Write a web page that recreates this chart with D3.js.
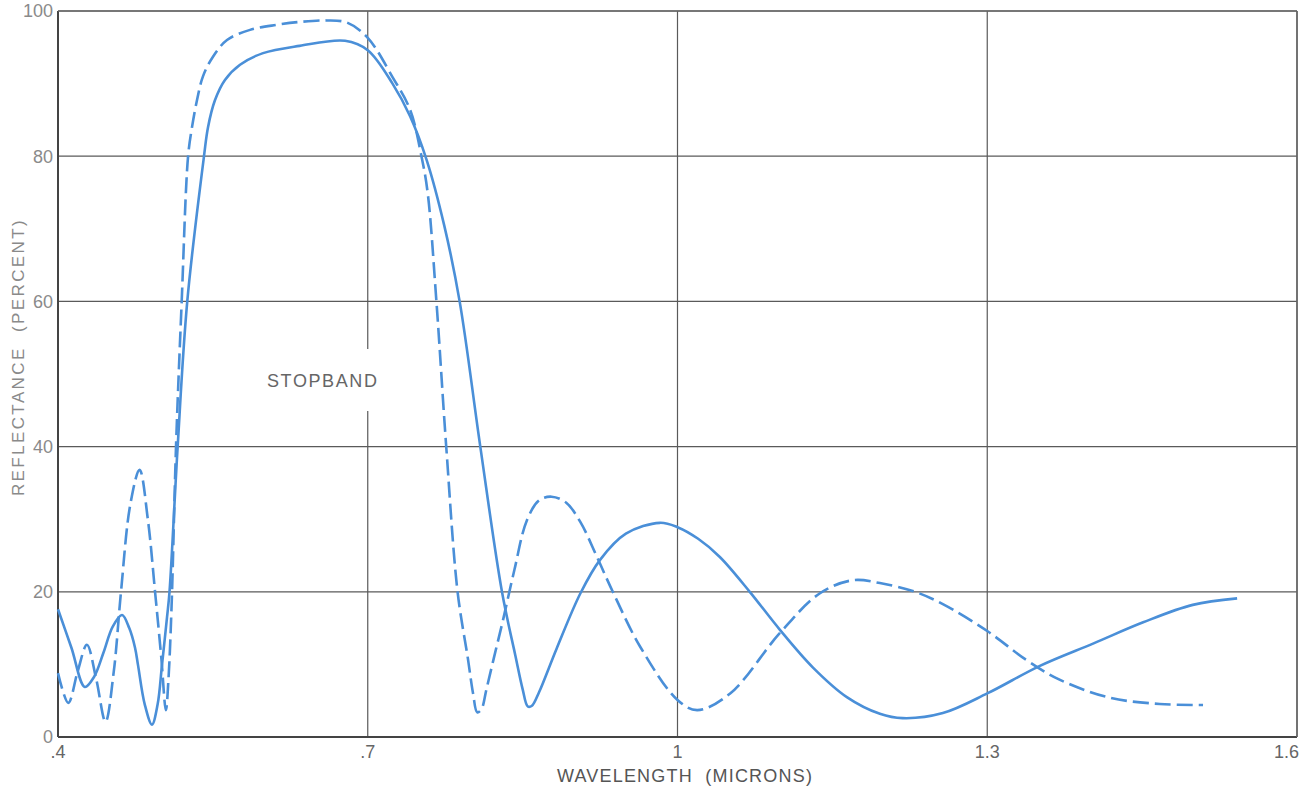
<!DOCTYPE html>
<html>
<head>
<meta charset="utf-8">
<script src="https://cdn.jsdelivr.net/npm/d3@7"></script>
<style>
  html, body { margin: 0; padding: 0; background: #fff; }
  svg { display: block; }
  text { font-family: "Liberation Sans", Arial, sans-serif; }
</style>
</head>
<body>
<svg id="chart" width="1314" height="787"></svg>
<script>
// ---- data ----
const xTicks = [0.4, 0.7, 1.0, 1.3, 1.6];
const xTickLabels = [".4", ".7", "1", "1.3", "1.6"];
const yTicks = [0, 20, 40, 60, 80, 100];
const yTickLabels = ["0", "20", "40", "60", "80", "100"];

// solid curve: wavelength (microns), reflectance (percent)
const solidX = [0.400, 0.413, 0.426, 0.435, 0.444, 0.453, 0.462, 0.469, 0.4746, 0.4775, 0.484, 0.491, 0.4965, 0.5007, 0.5056, 0.5080, 0.5159, 0.5252, 0.5414, 0.5453, 0.5520, 0.5617, 0.5763, 0.5986, 0.634, 0.678, 0.700, 0.724, 0.741, 0.757, 0.774, 0.789, 0.809, 0.830, 0.843, 0.850, 0.855, 0.859, 0.866, 0.883, 0.906, 0.925, 0.950, 0.983, 1.000, 1.020, 1.041, 1.070, 1.099, 1.131, 1.164, 1.196, 1.218, 1.257, 1.300, 1.351, 1.403, 1.451, 1.499, 1.542];
const solidY = [17.6, 12.3, 6.9, 8.3, 11.6, 15.2, 16.8, 15.0, 12.3, 9.9, 4.5, 1.7, 4.5, 9.9, 16.5, 20.0, 40.0, 60.0, 80.0, 84.0, 87.7, 90.5, 92.6, 94.2, 95.2, 95.9, 94.6, 90.0, 85.5, 79.5, 70.5, 60.0, 40.0, 20.0, 11.2, 6.6, 4.2, 4.3, 6.2, 12.2, 19.8, 24.4, 28.0, 29.5, 28.9, 27.3, 24.8, 20.0, 14.8, 9.6, 5.5, 3.2, 2.6, 3.3, 6.0, 9.8, 12.9, 15.8, 18.2, 19.1];

// dashed curve
const dashX = [0.400, 0.410, 0.419, 0.428, 0.437, 0.446, 0.454, 0.461, 0.470, 0.479, 0.487, 0.494, 0.500, 0.5045, 0.507, 0.510, 0.5143, 0.5198, 0.5260, 0.5298, 0.5346, 0.5404, 0.5501, 0.5637, 0.586, 0.6121, 0.6344, 0.660, 0.680, 0.700, 0.724, 0.741, 0.752, 0.758, 0.7665, 0.776, 0.787, 0.797, 0.802, 0.806, 0.810, 0.815, 0.822, 0.831, 0.842, 0.854, 0.866, 0.878, 0.892, 0.906, 0.922, 0.938, 0.964, 1.000, 1.019, 1.051, 1.099, 1.138, 1.170, 1.196, 1.230, 1.257, 1.300, 1.338, 1.370, 1.419, 1.467, 1.509];
const dashY = [8.8, 4.7, 9.0, 12.7, 8.0, 2.1, 9.0, 20.0, 32.0, 36.8, 30.0, 20.0, 11.0, 3.7, 8.0, 18.0, 40.0, 60.0, 80.0, 84.0, 87.7, 91.0, 93.7, 96.0, 97.4, 98.1, 98.5, 98.7, 98.4, 96.3, 90.9, 86.4, 80.0, 75.0, 60.0, 40.0, 20.0, 10.8, 6.0, 3.4, 3.8, 6.6, 10.8, 16.1, 23.0, 29.8, 32.6, 33.1, 32.3, 29.6, 24.8, 19.8, 12.4, 5.1, 3.7, 6.0, 14.3, 19.8, 21.6, 21.2, 20.0, 18.3, 14.6, 10.6, 7.9, 5.4, 4.55, 4.4];

// ---- layout ----
const svg = d3.select("#chart");
const plotL = 58, plotR = 1297, plotT = 11, plotB = 737;
const x = d3.scaleLinear().domain([0.4, 1.6]).range([plotL, plotR]);
const y = d3.scaleLinear().domain([0, 100]).range([plotB, plotT]);

const lineColor = "#4a8fd8";
const gridColor = "#5a5a5a";

// grid
const grid = svg.append("g");
grid.selectAll("line.h").data(yTicks.filter(d => d > 0)).join("line")
  .attr("class", "h")
  .attr("x1", plotL).attr("x2", plotR)
  .attr("y1", d => y(d)).attr("y2", d => y(d))
  .attr("stroke", gridColor).attr("stroke-width", 1.2);
grid.selectAll("line.v").data(xTicks.filter(d => d > 0.4)).join("line")
  .attr("class", "v")
  .attr("x1", d => x(d)).attr("x2", d => x(d))
  .attr("y1", plotT).attr("y2", plotB)
  .attr("stroke", gridColor).attr("stroke-width", 1.2);

// STOPBAND label with white knock-out
svg.append("rect").attr("x", 262).attr("y", 349).attr("width", 122).attr("height", 62).attr("fill", "#fff");
svg.append("text").attr("x", 267).attr("y", 387)
  .attr("font-size", 18).attr("fill", "#666").attr("letter-spacing", 1.6)
  .text("STOPBAND");

// axes lines
svg.append("line").attr("x1", plotL).attr("x2", plotL).attr("y1", plotT).attr("y2", plotB)
  .attr("stroke", "#444").attr("stroke-width", 2);
svg.append("line").attr("x1", plotL).attr("x2", plotR).attr("y1", plotB).attr("y2", plotB)
  .attr("stroke", "#444").attr("stroke-width", 2);

// y tick labels
svg.append("g").selectAll("text").data(yTicks).join("text")
  .attr("x", 53).attr("y", d => y(d)).attr("dy", "0.36em")
  .attr("text-anchor", "end").attr("font-size", 18).attr("fill", "#8a8a8a")
  .text((d, i) => yTickLabels[i]);

// x tick labels
svg.append("g").selectAll("text").data(xTicks).join("text")
  .attr("x", d => x(d)).attr("y", 758)
  .attr("text-anchor", (d, i) => i === xTicks.length - 1 ? "end" : "middle")
  .attr("dx", (d, i) => i === xTicks.length - 1 ? 2 : 0)
  .attr("font-size", 18).attr("fill", "#666")
  .text((d, i) => xTickLabels[i]);

// axis titles
svg.append("text").attr("x", 685).attr("y", 782).attr("text-anchor", "middle")
  .attr("font-size", 18).attr("fill", "#555").attr("letter-spacing", 1.2)
  .attr("xml:space", "preserve")
  .text("WAVELENGTH  (MICRONS)");
svg.append("text").attr("transform", "translate(24,357) rotate(-90)")
  .attr("text-anchor", "middle").attr("font-size", 17).attr("fill", "#8a8a8a")
  .attr("letter-spacing", 2.4).attr("xml:space", "preserve")
  .text("REFLECTANCE  (PERCENT)");

// curves
const line = d3.line().x(d => x(d[0])).y(d => y(d[1])).curve(d3.curveCatmullRom.alpha(0.5));
const solidData = solidX.map((v, i) => [v, solidY[i]]);
const dashData = dashX.map((v, i) => [v, dashY[i]]);

svg.append("path").datum(dashData).attr("d", line)
  .attr("fill", "none").attr("stroke", lineColor).attr("stroke-width", 2.6)
  .attr("stroke-dasharray", "16,6");
svg.append("path").datum(solidData).attr("d", line)
  .attr("fill", "none").attr("stroke", lineColor).attr("stroke-width", 2.6);

// border top/right
svg.append("line").attr("x1", plotL).attr("x2", plotR).attr("y1", plotT).attr("y2", plotT)
  .attr("stroke", "#666").attr("stroke-width", 1.5);
svg.append("line").attr("x1", plotR).attr("x2", plotR).attr("y1", plotT).attr("y2", plotB)
  .attr("stroke", "#666").attr("stroke-width", 1.5);
</script>
</body>
</html>
